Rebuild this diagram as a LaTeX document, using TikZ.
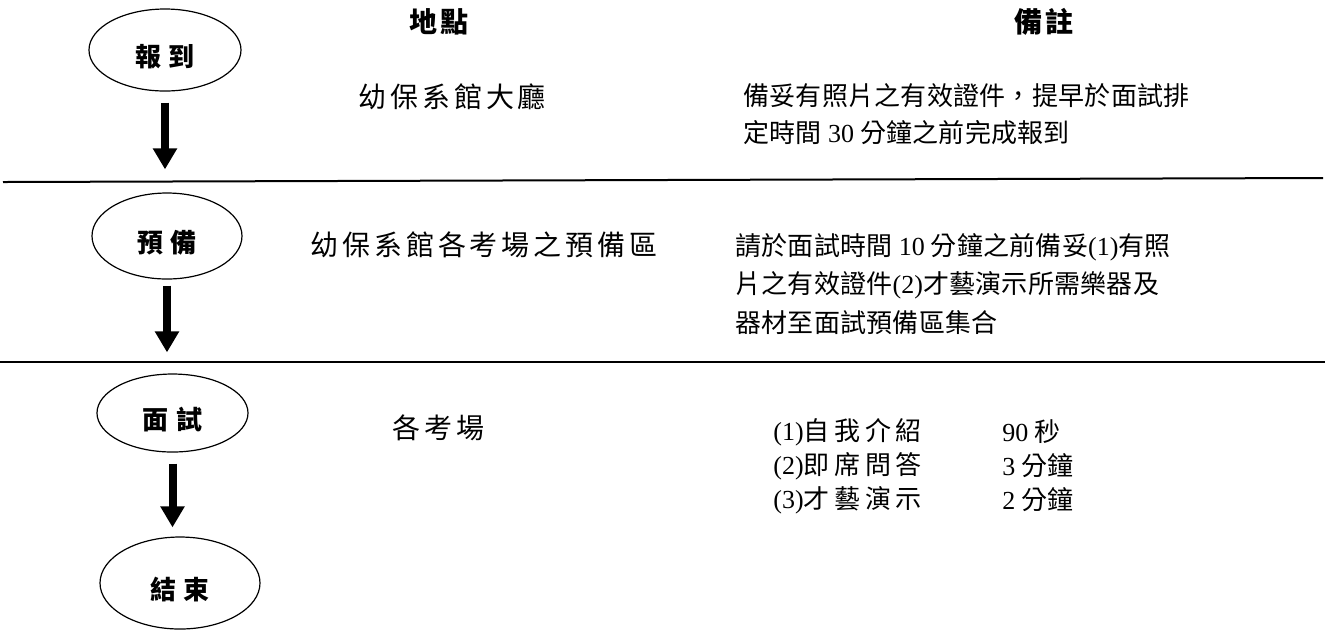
\documentclass[tikz,border=0pt]{standalone}
\usepackage{fontspec}
\setmainfont{Noto Sans CJK TC}
\newfontfamily\cjkN{Noto Sans CJK TC}[LetterSpace=1]
\newfontfamily\cjkW{Noto Sans CJK TC}[LetterSpace=14]
\newfontfamily\cjkI{Noto Sans CJK TC}[LetterSpace=18]
\newfontfamily\cjkE{Noto Sans CJK TC}[LetterSpace=30]
\newfontfamily\lat{Liberation Serif}
\usetikzlibrary{arrows.meta,shapes.geometric}
\begin{document}
\begin{tikzpicture}[x=0.5pt,y=-0.5pt,
  oval/.style={draw, ellipse, line width=0.6pt, inner sep=0pt,
    font=\cjkE\bfseries\fontsize{13}{15}\selectfont,
    text height=18pt, text depth=1.56pt},
  hdr/.style={inner sep=0pt, font=\cjkW\bfseries\fontsize{14}{16}\selectfont},
  loc/.style={anchor=west, inner sep=0pt, font=\cjkW\fontsize{14}{16}\selectfont},
  note/.style={anchor=west, inner sep=0pt, font=\cjkN\fontsize{13}{15}\selectfont},
  item/.style={anchor=west, inner sep=0pt, font=\cjkI\fontsize{13}{15}\selectfont},
  flow/.style={line width=4pt, -{Triangle[width=11.5pt,length=10.5pt]}},
  rule/.style={line width=1pt}
]
\useasboundingbox (0,0) rectangle (1325,629);

% separators
\draw[rule] (3,182) -- (1323,178);
\draw[rule] (0,361.5) -- (1325,361.5);

% flow ellipses
\node[oval, minimum width=76pt, minimum height=41pt] (e1) at (165,50) {報到};
\node[oval, minimum width=75pt, minimum height=43pt] (e2) at (167,236) {預備};
\node[oval, minimum width=75.5pt, minimum height=39pt] (e3) at (172.5,413) {面試};
\node[oval, minimum width=80pt, minimum height=46pt] (e4) at (180,583) {結束};

% arrows
\draw[flow, shorten <=5.5pt, shorten >=11.5pt] (e1.south) -- (e1.south |- e2.north);
\draw[flow, shorten <=3pt, shorten >=10.5pt] (e2.south) -- (e2.south |- e3.north);
\draw[flow, shorten <=5.5pt, shorten >=4.5pt] (e3.south) -- (e3.south |- e4.north);

% headers
\node[hdr] (h1) at (439,22) {地點};
\node[hdr] (h2) at (1044,22) {備註};

% locations
\node[loc] (l1) at (358,97) {幼保系館大廳};
\node[loc] (l2) at (310,245) {幼保系館各考場之預備區};
\node[loc] (l3) at (392,428) {各考場};

% notes block 1
\node[note] (n1a) at (743,96) {備妥有照片之有效證件，提早於面試排};
\node[note] (n1b) at (743,133) {定時間 {\lat 30} 分鐘之前完成報到};

% notes block 2
\node[note] (n2a) at (735,247) {請於面試時間 {\lat 10} 分鐘之前備妥{\lat (1)}有照};
\node[note] (n2b) at (735,285) {片之有效證件{\lat (2)}才藝演示所需樂器及};
\node[note] (n2c) at (735,323) {器材至面試預備區集合};

% notes block 3
\node[item] (n3a) at (773,432) {{\lat (1)}自我介紹};
\node[item] (n3b) at (773,466) {{\lat (2)}即席問答};
\node[item] (n3c) at (773,500) {{\lat (3)}才藝演示};
\node[note] (t3a) at (1002,432) {{\lat 90} 秒};
\node[note] (t3b) at (1002,466) {{\lat 3} 分鐘};
\node[note] (t3c) at (1002,500) {{\lat 2} 分鐘};
\end{tikzpicture}
\end{document}
